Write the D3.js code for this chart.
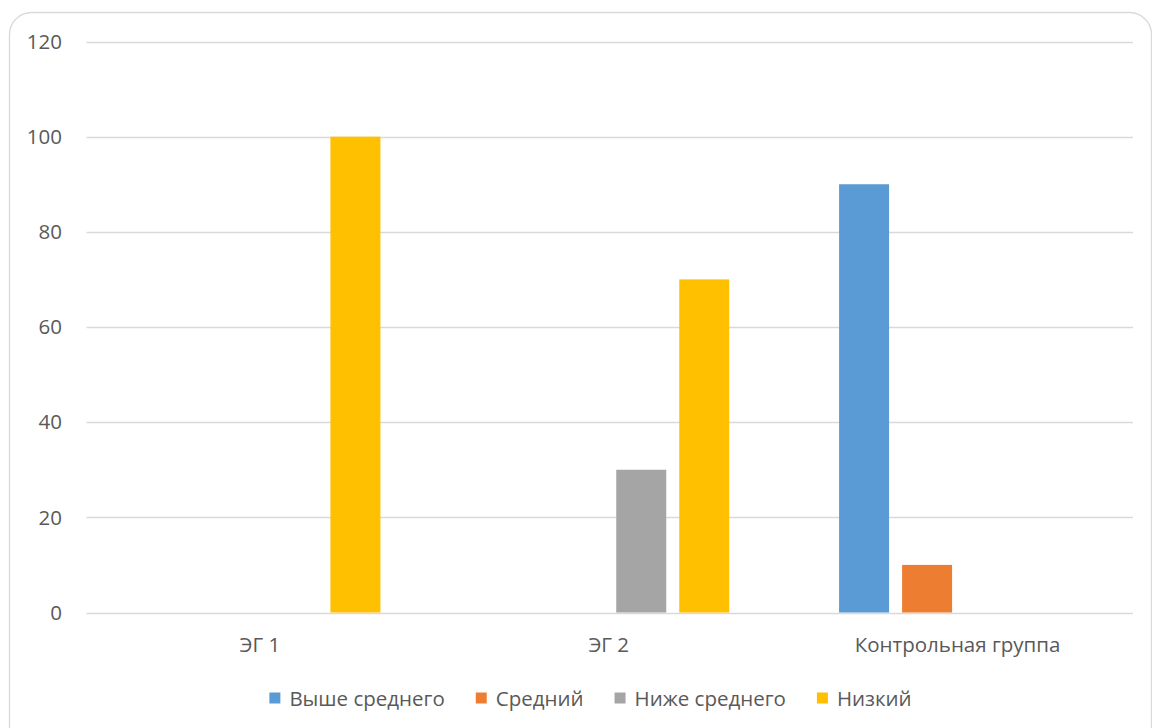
<!DOCTYPE html>
<html><head><meta charset="utf-8">
<script src="https://cdn.jsdelivr.net/npm/d3@7"></script>
<style>
html,body{margin:0;padding:0;background:#fff;}
svg{display:block;font-family:"Open Sans","Noto Sans",sans-serif;}
</style></head>
<body><svg id="c" width="1152" height="728"></svg>
<script>
const categories = ["ЭГ 1", "ЭГ 2", "Контрольная группа"];
const seriesNames = ["Выше среднего", "Средний", "Ниже среднего", "Низкий"];
const seriesColors = ["#5B9BD5", "#ED7D31", "#A5A5A5", "#FFC000"];
const valuesAbove = [0, 0, 90];
const valuesMiddle = [0, 0, 10];
const valuesBelow = [0, 30, 0];
const valuesLow = [100, 70, 0];
const yTicks = [0, 20, 40, 60, 80, 100, 120];

const seriesValues = [valuesAbove, valuesMiddle, valuesBelow, valuesLow];
const svg = d3.select("#c");
const plotL = 86.5, plotR = 1133, plotT = 41.5, plotB = 612.5;

svg.append("rect").attr("x", 9.5).attr("y", 12.5).attr("width", 1142).attr("height", 740)
  .attr("rx", 22).attr("fill", "#fff").attr("stroke", "#d9d9d9").attr("stroke-width", 1.3);

const y = d3.scaleLinear().domain([0, 120]).range([plotB, plotT]);
const x0 = d3.scaleBand().domain(categories).range([plotL, plotR]).padding(0);
const x1 = d3.scaleBand().domain(seriesNames).range([0, 239]).paddingInner(13/63).paddingOuter(0);

const textColor = "#595959";
const fs = 20.5;

svg.append("g").selectAll("line").data(yTicks).join("line")
  .attr("x1", plotL).attr("x2", plotR)
  .attr("y1", d => Math.round(y(d)) + 0.5).attr("y2", d => Math.round(y(d)) + 0.5)
  .attr("stroke", "#d9d9d9").attr("stroke-width", 1.3);

svg.append("g").selectAll("text").data(yTicks).join("text")
  .attr("x", 62).attr("y", d => y(d)).attr("dy", "0.35em")
  .attr("text-anchor", "end").attr("fill", textColor).attr("font-size", fs)
  .text(d => d);

const groups = svg.append("g").selectAll("g").data(categories).join("g")
  .attr("transform", c => `translate(${x0(c) + (x0.bandwidth() - 239) / 2},0)`);
groups.selectAll("rect").data((c, i) => seriesNames.map((s, j) => ({s, j, v: seriesValues[j][i]})))
  .join("rect")
  .attr("x", d => x1(d.s)).attr("width", x1.bandwidth())
  .attr("y", d => y(d.v)).attr("height", d => y(0) - y(d.v))
  .attr("fill", d => seriesColors[d.j]);

svg.append("g").selectAll("text").data(categories).join("text")
  .attr("x", c => x0(c) + x0.bandwidth() / 2 - 1).attr("y", 645).attr("dy", "0.35em")
  .attr("text-anchor", "middle").attr("fill", textColor).attr("font-size", fs)
  .text(c => c);

// legend: measured layout, centred
const lg = svg.append("g").selectAll("g").data(seriesNames).join("g");
lg.append("rect").attr("x", 0).attr("y", -5.5).attr("width", 11).attr("height", 11)
  .attr("fill", (d, i) => seriesColors[i]);
lg.append("text").attr("x", 20).attr("y", 1).attr("dy", "0.35em")
  .attr("fill", textColor).attr("font-size", fs).text(d => d);
const widths = [];
lg.each(function() { widths.push(20 + d3.select(this).select("text").node().getComputedTextLength()); });
const gap = 31;
const total = d3.sum(widths) + gap * (widths.length - 1);
let cx = 590.5 - total / 2;
lg.attr("transform", (d, i) => {
  const t = `translate(${cx},698)`;
  cx += widths[i] + gap;
  return t;
});
</script></body></html>
